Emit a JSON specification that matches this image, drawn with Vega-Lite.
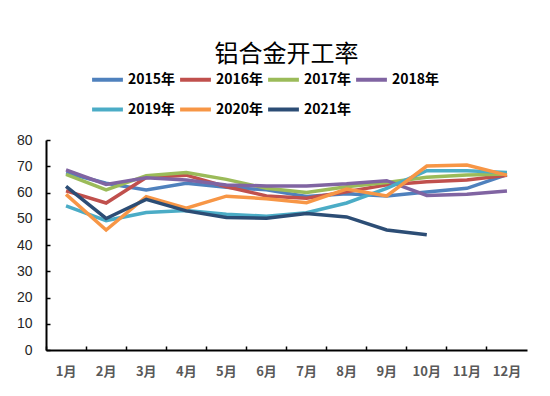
{
  "$schema": "https://vega.github.io/schema/vega-lite/v6.json",
  "autosize": {"type": "none"},
  "width": 481,
  "height": 210,
  "padding": {"left": 46, "top": 140, "right": 23, "bottom": 46},
  "background": "white",
  "title": {
    "text": "铝合金开工率",
    "anchor": "middle",
    "frame": "group",
    "fontSize": 24,
    "fontWeight": "normal",
    "font": "Noto Sans CJK SC",
    "color": "#000000",
    "offset": -5
  },
  "config": {
    "view": {"stroke": null},
    "font": "Noto Sans CJK SC"
  },
  "data": {
    "values": [
      {"month": "1月", "year": "2015年", "value": 67.5},
      {"month": "2月", "year": "2015年", "value": 63.5},
      {"month": "3月", "year": "2015年", "value": 61},
      {"month": "4月", "year": "2015年", "value": 63.5},
      {"month": "5月", "year": "2015年", "value": 62},
      {"month": "6月", "year": "2015年", "value": 61},
      {"month": "7月", "year": "2015年", "value": 58.5},
      {"month": "8月", "year": "2015年", "value": 59.5},
      {"month": "9月", "year": "2015年", "value": 58.7},
      {"month": "10月", "year": "2015年", "value": 60.2},
      {"month": "11月", "year": "2015年", "value": 61.6},
      {"month": "12月", "year": "2015年", "value": 66.8},

      {"month": "1月", "year": "2016年", "value": 60.6},
      {"month": "2月", "year": "2016年", "value": 56},
      {"month": "3月", "year": "2016年", "value": 65.7},
      {"month": "4月", "year": "2016年", "value": 66.6},
      {"month": "5月", "year": "2016年", "value": 62.2},
      {"month": "6月", "year": "2016年", "value": 58.7},
      {"month": "7月", "year": "2016年", "value": 57.8},
      {"month": "8月", "year": "2016年", "value": 60.3},
      {"month": "9月", "year": "2016年", "value": 62.9},
      {"month": "10月", "year": "2016年", "value": 64.1},
      {"month": "11月", "year": "2016年", "value": 64.8},
      {"month": "12月", "year": "2016年", "value": 66.6},

      {"month": "1月", "year": "2017年", "value": 66.9},
      {"month": "2月", "year": "2017年", "value": 61},
      {"month": "3月", "year": "2017年", "value": 66.4},
      {"month": "4月", "year": "2017年", "value": 67.6},
      {"month": "5月", "year": "2017年", "value": 65},
      {"month": "6月", "year": "2017年", "value": 61.6},
      {"month": "7月", "year": "2017年", "value": 60},
      {"month": "8月", "year": "2017年", "value": 62.2},
      {"month": "9月", "year": "2017年", "value": 63.8},
      {"month": "10月", "year": "2017年", "value": 65.8},
      {"month": "11月", "year": "2017年", "value": 66.7},
      {"month": "12月", "year": "2017年", "value": 67},

      {"month": "1月", "year": "2018年", "value": 68.6},
      {"month": "2月", "year": "2018年", "value": 63.1},
      {"month": "3月", "year": "2018年", "value": 65.6},
      {"month": "4月", "year": "2018年", "value": 64.8},
      {"month": "5月", "year": "2018年", "value": 62.9},
      {"month": "6月", "year": "2018年", "value": 62.5},
      {"month": "7月", "year": "2018年", "value": 62.5},
      {"month": "8月", "year": "2018年", "value": 63.3},
      {"month": "9月", "year": "2018年", "value": 64.5},
      {"month": "10月", "year": "2018年", "value": 58.9},
      {"month": "11月", "year": "2018年", "value": 59.3},
      {"month": "12月", "year": "2018年", "value": 60.6},

      {"month": "1月", "year": "2019年", "value": 54.9},
      {"month": "2月", "year": "2019年", "value": 49.3},
      {"month": "3月", "year": "2019年", "value": 52.4},
      {"month": "4月", "year": "2019年", "value": 53.1},
      {"month": "5月", "year": "2019年", "value": 51.7},
      {"month": "6月", "year": "2019年", "value": 51},
      {"month": "7月", "year": "2019年", "value": 52.3},
      {"month": "8月", "year": "2019年", "value": 56},
      {"month": "9月", "year": "2019年", "value": 61.6},
      {"month": "10月", "year": "2019年", "value": 68.3},
      {"month": "11月", "year": "2019年", "value": 68.3},
      {"month": "12月", "year": "2019年", "value": 67.6},

      {"month": "1月", "year": "2020年", "value": 59.3},
      {"month": "2月", "year": "2020年", "value": 45.7},
      {"month": "3月", "year": "2020年", "value": 58.4},
      {"month": "4月", "year": "2020年", "value": 54},
      {"month": "5月", "year": "2020年", "value": 58.6},
      {"month": "6月", "year": "2020年", "value": 57.6},
      {"month": "7月", "year": "2020年", "value": 56.1},
      {"month": "8月", "year": "2020年", "value": 61.3},
      {"month": "9月", "year": "2020年", "value": 58.7},
      {"month": "10月", "year": "2020年", "value": 70.1},
      {"month": "11月", "year": "2020年", "value": 70.5},
      {"month": "12月", "year": "2020年", "value": 66.6},

      {"month": "1月", "year": "2021年", "value": 62.3},
      {"month": "2月", "year": "2021年", "value": 50.1},
      {"month": "3月", "year": "2021年", "value": 57.4},
      {"month": "4月", "year": "2021年", "value": 53},
      {"month": "5月", "year": "2021年", "value": 50.5},
      {"month": "6月", "year": "2021年", "value": 50.2},
      {"month": "7月", "year": "2021年", "value": 52},
      {"month": "8月", "year": "2021年", "value": 50.7},
      {"month": "9月", "year": "2021年", "value": 45.7},
      {"month": "10月", "year": "2021年", "value": 43.9}
    ]
  },
  "mark": {"type": "line", "strokeWidth": 3.5, "strokeJoin": "miter"},
  "encoding": {
    "x": {
      "field": "month",
      "type": "ordinal",
      "sort": ["1月", "2月", "3月", "4月", "5月", "6月", "7月", "8月", "9月", "10月", "11月", "12月"],
      "scale": {"type": "band", "paddingInner": 0, "paddingOuter": 0},
      "axis": {
        "title": null,
        "labelAngle": 0,
        "labelFontSize": 13,
        "labelFontWeight": "bold",
        "labelColor": "#595959",
        "labelPadding": 19,
        "tickSize": -4,
        "tickColor": "#000000",
        "tickWidth": 1.5,
        "bandPosition": 0,
        "domainColor": "#000000",
        "domainWidth": 2,
        "grid": false
      }
    },
    "y": {
      "field": "value",
      "type": "quantitative",
      "scale": {"domain": [0, 80], "nice": false, "zero": true},
      "axis": {
        "title": null,
        "values": [0, 10, 20, 30, 40, 50, 60, 70, 80],
        "labelFontSize": 14,
        "labelFont": "Liberation Sans",
        "labelColor": "#262626",
        "labelPadding": 18,
        "tickSize": -4,
        "tickColor": "#000000",
        "tickWidth": 1.5,
        "domainColor": "#000000",
        "domainWidth": 2,
        "grid": false
      }
    },
    "color": {
      "field": "year",
      "type": "nominal",
      "scale": {
        "domain": ["2015年", "2016年", "2017年", "2018年", "2019年", "2020年", "2021年"],
        "range": ["#4F81BD", "#C0504D", "#9BBB59", "#8064A2", "#4BACC6", "#F79646", "#2C4D75"]
      },
      "legend": {
        "title": null,
        "orient": "none",
        "legendX": 44,
        "legendY": -78,
        "direction": "horizontal",
        "columns": 4,
        "symbolType": "stroke",
        "symbolSize": 950,
        "symbolStrokeWidth": 4,
        "labelFontSize": 14,
        "labelFontWeight": "bold",
        "labelColor": "#000000",
        "labelOffset": 3,
        "columnPadding": -4,
        "rowPadding": 4
      }
    }
  }
}
